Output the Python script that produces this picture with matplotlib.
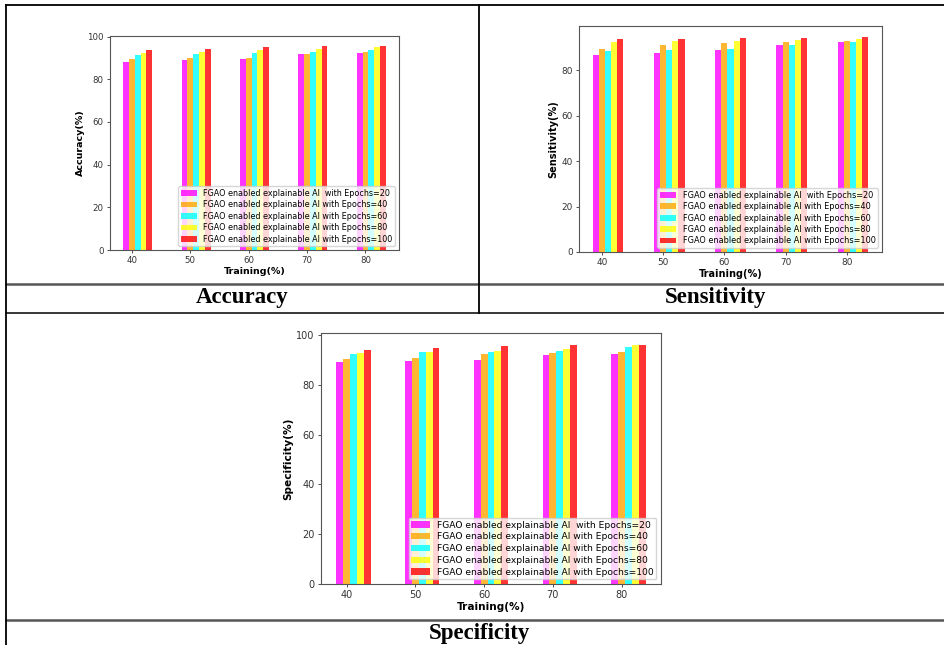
import numpy as np
import matplotlib
matplotlib.use('Agg')
import matplotlib.pyplot as plt
from matplotlib.lines import Line2D

# Data
training = [40, 50, 60, 70, 80]
labels = ['FGAO enabled explainable AI  with Epochs=20',
          'FGAO enabled explainable AI with Epochs=40',
          'FGAO enabled explainable AI with Epochs=60',
          'FGAO enabled explainable AI with Epochs=80',
          'FGAO enabled explainable AI with Epochs=100']
colors = ['magenta', 'orange', 'cyan', 'yellow', 'red']

accuracy_20 = [88.2, 88.8, 89.4, 91.8, 92.4]
accuracy_40 = [89.4, 89.9, 90.2, 91.8, 92.8]
accuracy_60 = [91.3, 91.9, 92.5, 93.0, 93.8]
accuracy_80 = [92.5, 93.0, 93.5, 94.2, 95.2]
accuracy_100 = [93.9, 94.4, 95.3, 95.5, 95.5]

sensitivity_20 = [86.9, 87.6, 89.1, 91.3, 92.3]
sensitivity_40 = [89.4, 91.2, 91.9, 92.3, 93.1]
sensitivity_60 = [88.4, 89.1, 89.4, 91.3, 92.3]
sensitivity_80 = [92.3, 92.9, 93.1, 93.5, 94.0]
sensitivity_100 = [93.8, 94.0, 94.1, 94.4, 94.8]

specificity_20 = [89.1, 89.6, 89.9, 92.0, 92.4]
specificity_40 = [90.3, 90.6, 92.4, 92.8, 93.2]
specificity_60 = [92.5, 93.0, 93.2, 93.4, 95.2]
specificity_80 = [92.7, 93.0, 93.5, 94.3, 95.9]
specificity_100 = [94.0, 94.7, 95.5, 95.8, 96.0]

W, H = 944, 645
fig = plt.figure(figsize=(W / 100, H / 100), dpi=100)


def px_axes(left, top, right, bottom):
    return fig.add_axes([left / W, 1 - bottom / H, (right - left) / W, (bottom - top) / H])


def bar_chart(ax, series, ylabel, fs, lfs):
    x = np.arange(len(training))
    w = 0.1
    for j, vals in enumerate(series):
        ax.bar(x + j * w, vals, w, color=colors[j], alpha=0.8, label=labels[j])
    ax.set_xticks(x + w)
    ax.set_xticklabels(training)
    ax.tick_params(labelsize=fs, length=2.5, width=0.6, pad=2, colors='#333333')
    for s in ax.spines.values():
        s.set_color('#555555')
        s.set_linewidth(0.8)
    ax.set_xlabel('Training(%)', fontsize=fs + 0.6, fontweight='bold', labelpad=1)
    ax.set_ylabel(ylabel, fontsize=fs + 0.6, fontweight='bold', labelpad=2)
    ax.legend(loc='lower right', fontsize=lfs, borderpad=0.3, labelspacing=0.3,
              handletextpad=0.8, borderaxespad=0.5)


ax1 = px_axes(110, 36, 399, 250)
bar_chart(ax1, [accuracy_20, accuracy_40, accuracy_60, accuracy_80, accuracy_100],
          'Accuracy(%)', 6.2, 5.8)

ax2 = px_axes(579, 26, 882, 252)
bar_chart(ax2, [sensitivity_20, sensitivity_40, sensitivity_60, sensitivity_80, sensitivity_100],
          'Sensitivity(%)', 6.4, 5.9)

ax3 = px_axes(321, 333, 661, 584)
bar_chart(ax3, [specificity_20, specificity_40, specificity_60, specificity_80, specificity_100],
          'Specificity(%)', 7.0, 6.6)


# table borders
def hline(y, x0, x1, color='black', lw=1.3):
    fig.add_artist(Line2D([x0 / W, x1 / W], [1 - y / H, 1 - y / H], color=color, lw=lw))


def vline(x, y0, y1, color='black', lw=1.3):
    fig.add_artist(Line2D([x / W, x / W], [1 - y0 / H, 1 - y1 / H], color=color, lw=lw))


hline(5, 6, 944)
hline(284, 6, 944, color='#555555', lw=1.8)
hline(313, 6, 944, lw=1.1)
hline(620, 6, 944, color='#555555', lw=1.8)
vline(6, 5, 645)
vline(479, 5, 313)

cap = dict(fontsize=16.5, fontweight='bold', family='Liberation Serif', ha='center', va='center')
fig.text(242 / W, 1 - 298 / H, 'Accuracy', **cap)
fig.text(716 / W, 1 - 298 / H, 'Sensitivity', **cap)
fig.text(479 / W, 1 - 633 / H, 'Specificity', **cap)

fig.savefig('out.png', dpi=100)
